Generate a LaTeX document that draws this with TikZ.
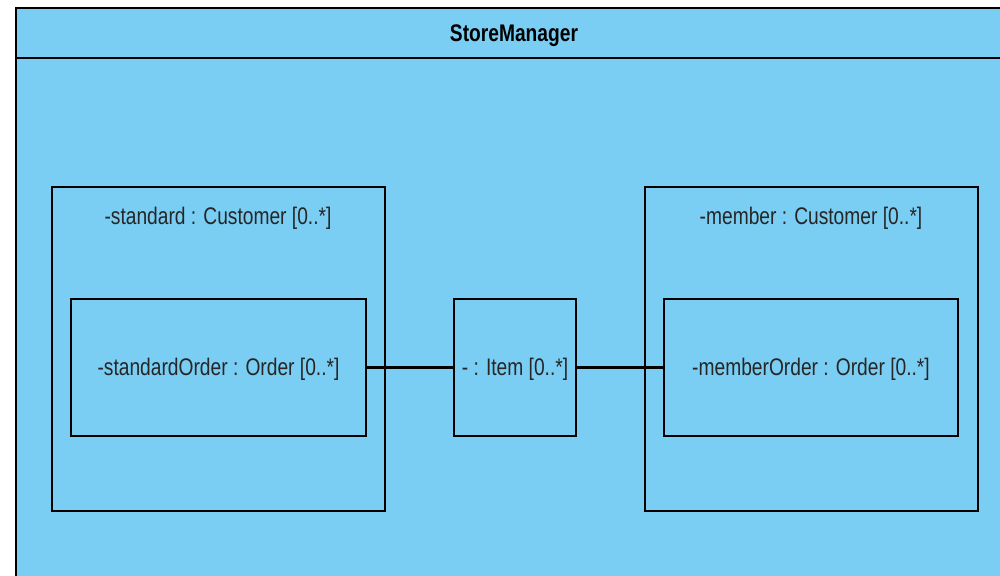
\documentclass[tikz,border=0pt]{standalone}
\usepackage{fontspec}
\setmainfont{Liberation Sans}[FakeStretch=0.8]
\definecolor{umlfill}{RGB}{122,206,243}
\begin{document}
\begin{tikzpicture}[x=1pt,y=-1pt,
  box/.style={draw=black,line width=2.2pt},
  lbl/.style={font=\fontsize{24}{28}\selectfont,inner sep=0pt,text=black!85},
  conn/.style={draw=black,line width=2.4pt}]
\useasboundingbox (0,0) rectangle (1000,575);
\begin{scope}
\clip (0,0) rectangle (1000,575);
\draw[fill=umlfill,line width=2.6pt] (16,8) rectangle (1012,590);
\draw[line width=2.6pt] (16,58) -- (1012,58);
\end{scope}
\node[font=\bfseries\fontsize{24}{28}\selectfont,inner sep=0pt] (title) at (514,36) {StoreManager};
% left
\draw[box] (52,187) rectangle (385,511);
\node[lbl] (lcust) at (218,218) {-standard : Customer [0..*]};
\node[box,minimum width=295pt,minimum height=137pt,inner sep=0pt] (lord) at (218.5,367.5) {};
\node[lbl] at ([yshift=-2pt]lord.center) {-standardOrder : Order [0..*]};
% middle
\node[box,minimum width=122pt,minimum height=137pt,inner sep=0pt] (item) at (515,367.5) {};
\node[lbl] at ([yshift=-2pt]item.center) {- : Item [0..*]};
% right
\draw[box] (645,187) rectangle (978,511);
\node[lbl] (rcust) at (811,218) {-member : Customer [0..*]};
\node[box,minimum width=294pt,minimum height=137pt,inner sep=0pt] (rord) at (811,367.5) {};
\node[lbl] at ([yshift=-2pt]rord.center) {-memberOrder : Order [0..*]};
% connectors
\draw[conn] (lord.east) -- (item.west);
\draw[conn] (item.east) -- (rord.west);
\end{tikzpicture}
\end{document}
